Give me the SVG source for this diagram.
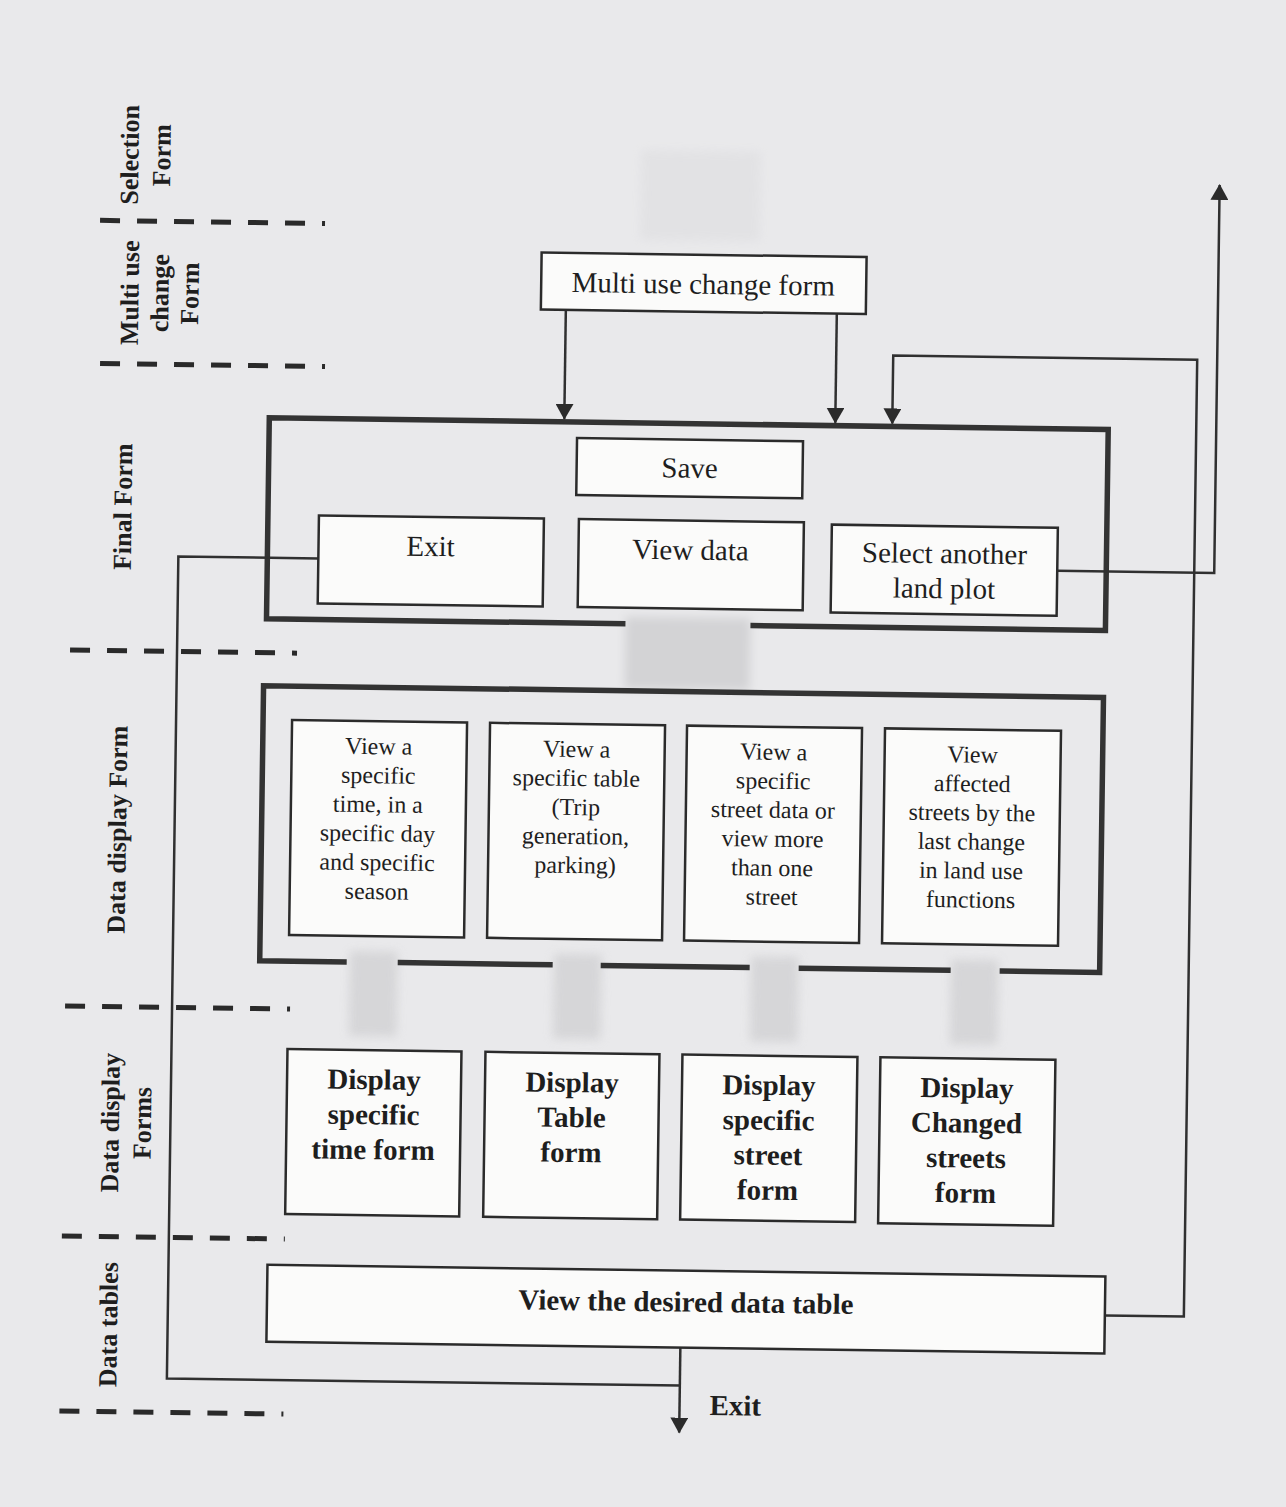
<svg xmlns="http://www.w3.org/2000/svg" width="1286" height="1507" viewBox="0 0 1286 1507">
<defs>
<style>
.box{fill:#fbfbfa;stroke:#2b2b2b;stroke-width:2.5}
.cont{fill:none;stroke:#333;stroke-width:5.5}
.conn{fill:none;stroke:#303030;stroke-width:2.5}
.dash{stroke:#2a2a2a;stroke-width:5;stroke-dasharray:20 17}
.t{font-family:"Liberation Serif","Times New Roman",serif;fill:#1e1e1e;text-anchor:middle}
.r{font-size:29px}
.s{font-size:24px}
.b{font-size:29px;font-weight:bold}
.lane{font-size:26px;font-weight:bold;dominant-baseline:central}
.blob{fill:#d3d3d5;filter:url(#blur)}
</style>
<filter id="blur" x="-30%" y="-30%" width="160%" height="160%"><feGaussianBlur stdDeviation="5"/></filter>
<marker id="ah" viewBox="0 0 16 18" refX="15" refY="9" markerWidth="16" markerHeight="18" markerUnits="userSpaceOnUse" orient="auto"><path d="M0,0 L16,9 L0,18 z" fill="#2b2b2b"/></marker>
</defs>
<rect x="0" y="0" width="1286" height="1507" fill="#e9e9eb"/>
<g transform="rotate(0.8 643 800)">
<g id="faded">
<rect class="blob" x="632" y="150" width="120" height="90" opacity="0.3"/>
<rect class="blob" x="623" y="617" width="125" height="72"/>
<rect class="blob" x="352" y="955" width="48" height="85" opacity="0.85"/>
<rect class="blob" x="556" y="955" width="48" height="85" opacity="0.85"/>
<rect class="blob" x="753" y="955" width="48" height="85" opacity="0.85"/>
<rect class="blob" x="953" y="955" width="48" height="85" opacity="0.85"/>
</g>
<g id="lanes">
<line class="dash" x1="92" y1="228" x2="317" y2="228"/>
<line class="dash" x1="94" y1="371" x2="319" y2="371"/>
<line class="dash" x1="68" y1="658" x2="295" y2="658"/>
<line class="dash" x1="68" y1="1014" x2="293" y2="1014"/>
<line class="dash" x1="68" y1="1244" x2="291" y2="1244"/>
<line class="dash" x1="68" y1="1419" x2="292" y2="1419"/>
<text class="t lane" transform="translate(121 162) rotate(-90)">Selection</text>
<text class="t lane" transform="translate(153 162) rotate(-90)">Form</text>
<text class="t lane" transform="translate(123 300) rotate(-90)">Multi use</text>
<text class="t lane" transform="translate(153 300) rotate(-90)">change</text>
<text class="t lane" transform="translate(183 300) rotate(-90)">Form</text>
<text class="t lane" transform="translate(119 514) rotate(-90)">Final Form</text>
<text class="t lane" transform="translate(118 837) rotate(-90)">Data display Form</text>
<text class="t lane" transform="translate(115 1130) rotate(-90)">Data display</text>
<text class="t lane" transform="translate(147 1130) rotate(-90)">Forms</text>
<text class="t lane" transform="translate(116 1332) rotate(-90)">Data tables</text>
</g>
<g id="final-form">
<path class="cont" d="M623,624 H264 V423 H1103 V624 H748"/>
</g>
<g id="data-display-form">
<path class="cont" d="M349,966 H262 V691 H1102 V966 H1002 M953,966 H801 M752,966 H603 M555,966 H400"/>
</g>
<g id="connectors">
<path class="conn" d="M559,311 V420" marker-end="url(#ah)"/>
<path class="conn" d="M830,311 V420" marker-end="url(#ah)"/>
<path class="conn" d="M1112,1309 H1191 V352 H887 V420" marker-end="url(#ah)"/>
<path class="conn" d="M1054,565 H1211 V177" marker-end="url(#ah)"/>
<path class="conn" d="M315,563 H175 V1385 H688"/>
<path class="conn" d="M688,1347 V1432" marker-end="url(#ah)"/>
<text class="t b" x="718" y="1414" style="text-anchor:start">Exit</text>
</g>
<g id="multi-use">
<rect class="box" x="534" y="254" width="325" height="57"/>
<text class="t r" x="696" y="293">Multi use change form</text>
</g>
<g id="save">
<rect class="box" x="572" y="439" width="226" height="57"/>
<text class="t r" x="685" y="477">Save</text>
</g>
<g id="exit">
<rect class="box" x="315" y="520" width="225" height="88"/>
<text class="t r" x="427" y="559">Exit</text>
</g>
<g id="view-data">
<rect class="box" x="575" y="520" width="225" height="88"/>
<text class="t r" x="687" y="559">View data</text>
</g>
<g id="select-plot">
<rect class="box" x="828" y="522" width="226" height="88"/>
<text class="t r" x="941" y="559">Select another</text>
<text class="t r" x="941" y="594">land plot</text>
</g>
<g id="view-time">
<rect class="box" x="291" y="725" width="175" height="215"/>
<text class="t s" x="378" y="758">View a</text>
<text class="t s" x="378" y="787">specific</text>
<text class="t s" x="378" y="816">time, in a</text>
<text class="t s" x="378" y="845">specific day</text>
<text class="t s" x="378" y="874">and specific</text>
<text class="t s" x="378" y="903">season</text>
</g>
<g id="view-table">
<rect class="box" x="489" y="725" width="175" height="215"/>
<text class="t s" x="576" y="758">View a</text>
<text class="t s" x="576" y="787">specific table</text>
<text class="t s" x="576" y="816">(Trip</text>
<text class="t s" x="576" y="845">generation,</text>
<text class="t s" x="576" y="874">parking)</text>
</g>
<g id="view-street">
<rect class="box" x="686" y="725" width="175" height="215"/>
<text class="t s" x="773" y="758">View a</text>
<text class="t s" x="773" y="787">specific</text>
<text class="t s" x="773" y="816">street data or</text>
<text class="t s" x="773" y="845">view more</text>
<text class="t s" x="773" y="874">than one</text>
<text class="t s" x="773" y="903">street</text>
</g>
<g id="view-affected">
<rect class="box" x="884" y="725" width="176" height="215"/>
<text class="t s" x="972" y="758">View</text>
<text class="t s" x="972" y="787">affected</text>
<text class="t s" x="972" y="816">streets by the</text>
<text class="t s" x="972" y="845">last change</text>
<text class="t s" x="972" y="874">in land use</text>
<text class="t s" x="972" y="903">functions</text>
</g>
<g id="display-time">
<rect class="box" x="291" y="1054" width="174" height="165"/>
<text class="t b" x="378" y="1093">Display</text>
<text class="t b" x="378" y="1128">specific</text>
<text class="t b" x="378" y="1163">time form</text>
</g>
<g id="display-table">
<rect class="box" x="489" y="1054" width="174" height="165"/>
<text class="t b" x="576" y="1093">Display</text>
<text class="t b" x="576" y="1128">Table</text>
<text class="t b" x="576" y="1163">form</text>
</g>
<g id="display-street">
<rect class="box" x="686" y="1054" width="175" height="165"/>
<text class="t b" x="773" y="1093">Display</text>
<text class="t b" x="773" y="1128">specific</text>
<text class="t b" x="773" y="1163">street</text>
<text class="t b" x="773" y="1198">form</text>
</g>
<g id="display-changed">
<rect class="box" x="884" y="1054" width="175" height="166"/>
<text class="t b" x="971" y="1093">Display</text>
<text class="t b" x="971" y="1128">Changed</text>
<text class="t b" x="971" y="1163">streets</text>
<text class="t b" x="971" y="1198">form</text>
</g>
<g id="data-table">
<rect class="box" x="274" y="1270" width="838" height="77"/>
<text class="t b" x="693" y="1311">View the desired data table</text>
</g>
</g>
</svg>
